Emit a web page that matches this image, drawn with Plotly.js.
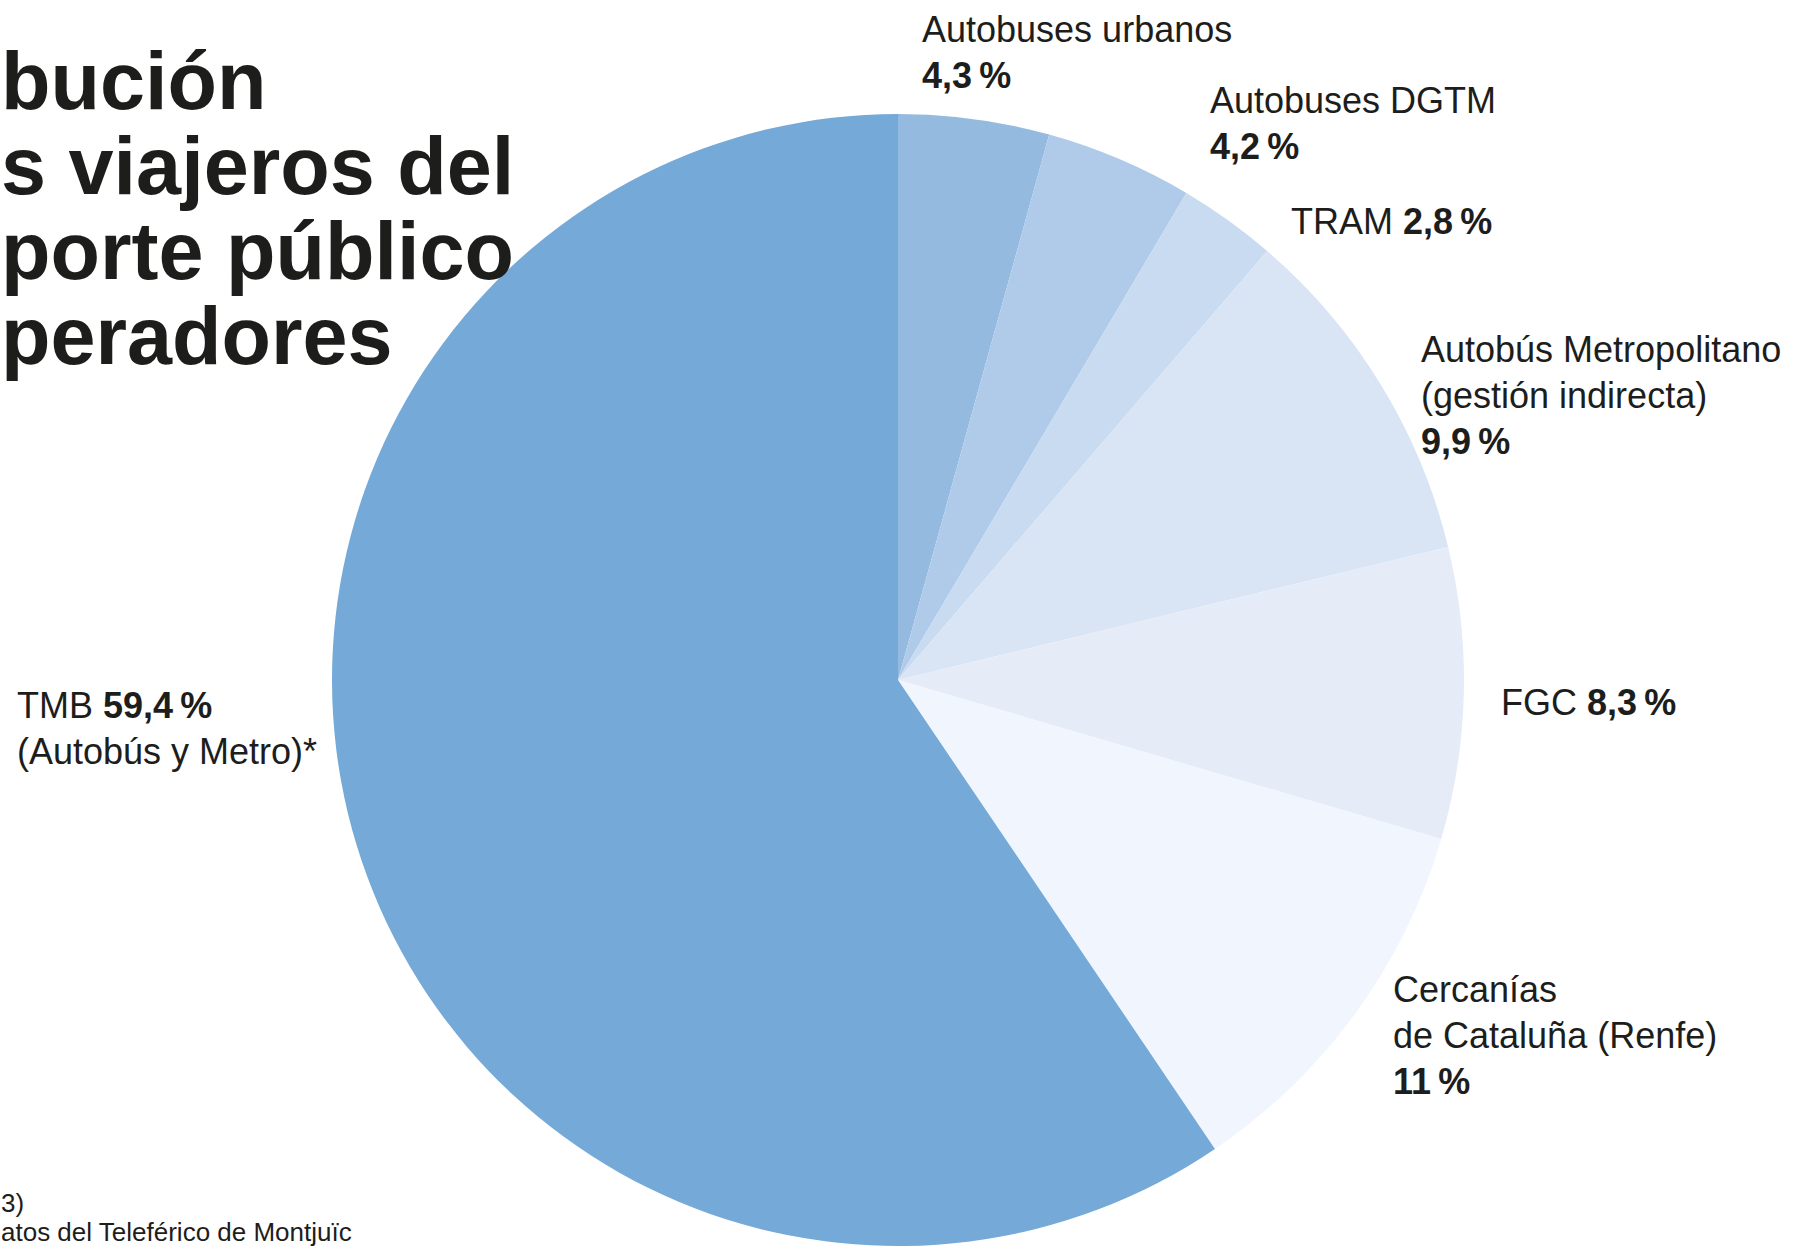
<!DOCTYPE html>
<html>
<head>
<meta charset="utf-8">
<script src="https://cdn.plot.ly/plotly-3.0.1.min.js"></script>
<style>html,body{margin:0;padding:0;background:#fff;}#chart{width:1793px;height:1246px;}</style>
</head>
<body>
<div id="chart"></div>
<script>
// ---- data ----
const operators = ["Autobuses urbanos", "Autobuses DGTM", "TRAM", "Autobús Metropolitano (gestión indirecta)", "FGC", "Cercanías de Cataluña (Renfe)", "TMB (Autobús y Metro)*"];
const shares = [4.3, 4.2, 2.8, 9.9, 8.3, 11, 59.4];
const sliceColors = ["#94badf", "#b0cbea", "#c9dbf0", "#d9e5f5", "#e5ecf8", "#f1f5fd", "#74a9d8"];
// visible portion of the (cropped) title and footnote
const titleLines = ["bución", "s viajeros del", "porte público", "peradores"];
const footnoteLines = ["3)", "atos del Teleférico de Montjuïc"];

// label pieces before/after the value
const labelHead = ["Autobuses urbanos<br>", "Autobuses DGTM<br>", "TRAM ", "Autobús Metropolitano<br>(gestión indirecta)<br>", "FGC ", "Cercanías<br>de Cataluña (Renfe)<br>", "TMB "];
const labelTail = ["", "", "", "", "", "", "<br>(Autobús y Metro)*"];
// left x, first baseline y (pixels)
const labelPos = [[920, 41], [1208, 112], [1289, 233], [1419, 361], [1499, 714], [1391, 1001], [15, 717]];

const W = 1793, H = 1246;
const fx = x => x / W, fy = y => 1 - y / H;
const fmt = v => String(v).replace('.', ',') + '\u2009%';
const ink = "#1d1d1b";
const FONT = "Liberation Sans, Arial, Helvetica, sans-serif";
const LABEL_SIZE = 36, LABEL_GAP = 46;

const annotations = [];
operators.forEach((op, i) => {
  const full = labelHead[i] + '<b>' + fmt(shares[i]) + '</b>' + labelTail[i];
  full.split('<br>').forEach((line, j) => {
    const base = labelPos[i][1] + j * LABEL_GAP;
    annotations.push({
      xref: 'paper', yref: 'paper', x: fx(labelPos[i][0]), y: fy(base - 0.905 * LABEL_SIZE - 1),
      xanchor: 'left', yanchor: 'top', align: 'left', showarrow: false,
      text: line,
      font: {family: FONT, size: LABEL_SIZE, color: ink}
    });
  });
});
const TITLE_SIZE = 81;
const titleBase = [108, 193, 278, 363];
titleLines.forEach((t, i) => {
  annotations.push({
    xref: 'paper', yref: 'paper', x: 0, y: fy(titleBase[i] - 0.905 * TITLE_SIZE),
    xanchor: 'left', yanchor: 'top', align: 'left', showarrow: false, borderpad: 0,
    text: '<b>' + t + '</b>',
    font: {family: FONT, size: TITLE_SIZE, color: ink}
  });
});
const FOOT_SIZE = 26;
const footBase = [1211, 1240];
footnoteLines.forEach((t, i) => {
  annotations.push({
    xref: 'paper', yref: 'paper', x: 0, y: fy(footBase[i] - 0.905 * FOOT_SIZE),
    xanchor: 'left', yanchor: 'top', align: 'left', showarrow: false, borderpad: 0,
    text: t,
    font: {family: FONT, size: FOOT_SIZE, color: ink}
  });
});

const trace = {
  type: 'pie',
  labels: operators,
  values: shares,
  sort: false,
  direction: 'clockwise',
  rotation: 0,
  textinfo: 'none',
  hoverinfo: 'label+percent',
  marker: {colors: sliceColors, line: {width: 0}},
  domain: {x: [332 / W, 1464 / W], y: [0, 1132 / H]},
  showlegend: false
};

Plotly.newPlot('chart', [trace], {
  width: W, height: H,
  margin: {l: 0, r: 0, t: 0, b: 0},
  paper_bgcolor: '#ffffff',
  showlegend: false,
  annotations: annotations
}, {displayModeBar: false, staticPlot: true});
</script>
</body>
</html>
